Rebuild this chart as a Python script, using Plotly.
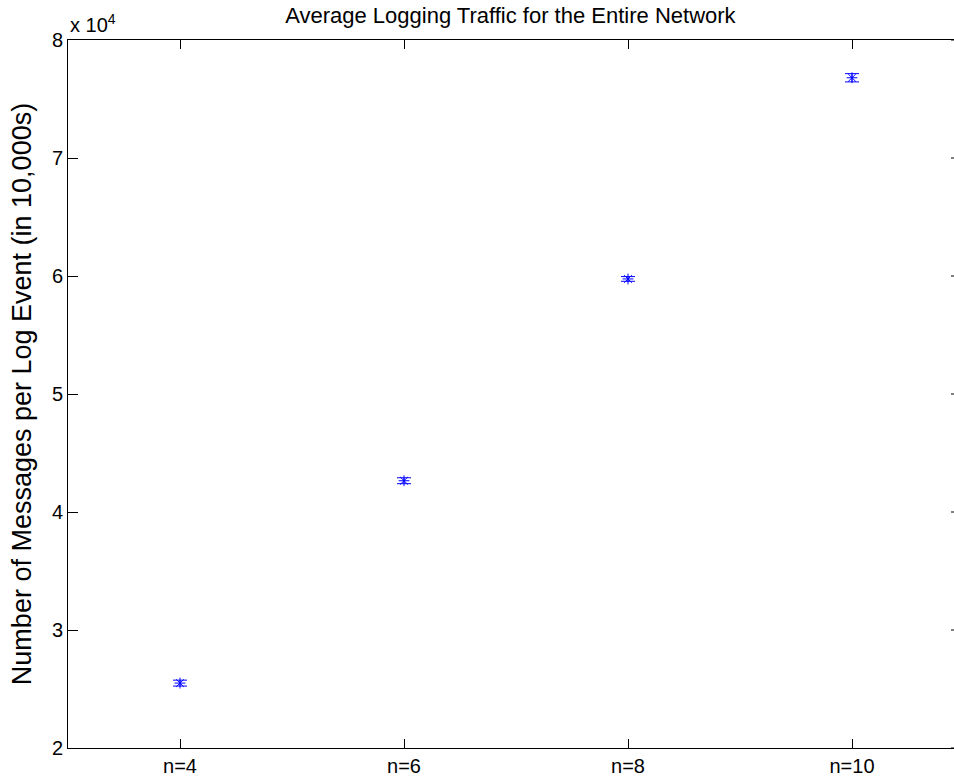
import plotly.graph_objects as go

categories = ["n=4", "n=6", "n=8", "n=10"]
mean_msgs = [25500, 42650, 59750, 76800]
err_msgs = [250, 250, 200, 350]
y_tick_vals = [20000, 30000, 40000, 50000, 60000, 70000, 80000]
y_tick_text = ["2", "3", "4", "5", "6", "7", "8"]

xpos = list(range(1, len(categories) + 1))
FONT = "Liberation Sans, Arial, sans-serif"

fig = go.Figure()
fig.add_trace(go.Scatter(
    x=xpos, y=mean_msgs, mode="markers",
    marker=dict(symbol="asterisk-open", size=9, color="blue",
                line=dict(color="blue", width=1)),
    error_y=dict(type="data", array=err_msgs, visible=True,
                 color="blue", thickness=1, width=7),
    showlegend=False,
))

# right-side tick stubs (box is clipped at the right edge)
for v in y_tick_vals:
    fig.add_shape(type="line", xref="paper", yref="y",
                  x0=1 - 3 / 886, x1=1, y0=v, y1=v,
                  line=dict(color="black", width=1))

fig.add_annotation(xref="paper", yref="paper", x=0, y=1, xanchor="left",
                   yanchor="bottom", yshift=2, showarrow=False,
                   text="x 10<sup>4</sup>",
                   font=dict(family=FONT, size=20, color="black"))

fig.update_layout(
    width=954, height=782,
    margin=dict(l=68, r=0, t=40, b=34),
    paper_bgcolor="white", plot_bgcolor="white",
    title=dict(text="Average Logging Traffic for the Entire Network",
               x=0.535, xanchor="center", y=1 - 15 / 782, yanchor="middle",
               font=dict(family=FONT, size=22, color="black")),
    font=dict(family=FONT, size=20, color="black"),
    xaxis=dict(range=[0.5, 0.5 + 886 / 224], tickvals=xpos, ticktext=categories,
               showline=True, linecolor="black", linewidth=1, mirror="ticks",
               ticks="inside", ticklen=9, tickcolor="black",
               showgrid=False, zeroline=False),
    yaxis=dict(range=[20000, 80000], tickvals=y_tick_vals, ticktext=y_tick_text,
               showline=True, linecolor="black", linewidth=1,
               ticks="inside", ticklen=10, tickcolor="black",
               showgrid=False, zeroline=False,
               title=dict(text="Number of Messages per Log Event (in 10,000s)",
                          font=dict(family=FONT, size=27), standoff=12)),
)

fig.write_html("out.html", config={"displayModeBar": False},
               post_script="document.body.style.margin='0';document.body.style.overflow='hidden';")
